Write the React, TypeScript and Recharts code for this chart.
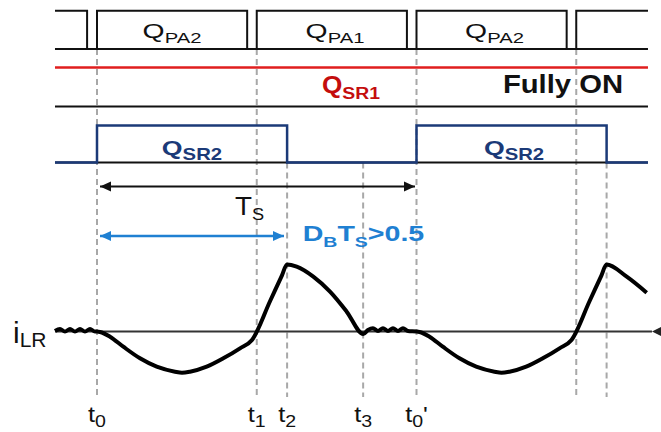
import React from 'react';
import { ComposedChart, Line, Scatter, XAxis, YAxis } from 'recharts';

// ---------------------------------------------------------------------------
// Signal data. Time is normalised to the switching period Ts (t0 = 0, t0' = 1).
// ---------------------------------------------------------------------------
const T_START = -0.1315;
const T_END = 1.7245;

// primary-side gate drive Q_PA1 / Q_PA2 (1 = on)
const PA_T = [T_START, -0.031, 0, 0.47, 0.5, 0.97, 1.0, 1.47, 1.5, T_END];
const PA_V = [1, 0, 1, 0, 1, 0, 1, 0, 1, 1];

// Q_SR1 stays fully on
const SR1_T = [T_START, T_END];
const SR1_V = [1, 1];

// Q_SR2 gate
const SR2_T = [T_START, 0, 0.595, 1.0, 1.595, T_END];
const SR2_V = [0, 1, 0, 1, 0, 0];

// resonant inductor current i_LR (normalised to its peak)
const ILR_T = [
  -0.1315, -0.1158, -0.1002, -0.0845, -0.0689, -0.0532, -0.0376, -0.0219, -0.0063, 0,
  0.0094, 0.0407, 0.0823, 0.1346, 0.1869, 0.2441, 0.2660, 0.2911, 0.3433, 0.3953, 0.4476, 0.4851,
  0.5415, 0.579, 0.5947, 0.625, 0.677, 0.7293, 0.7815, 0.8335,
  0.8482, 0.8638, 0.8795, 0.8951, 0.9108, 0.9264, 0.9421, 0.9577, 0.9734, 1.0,
  1.0094, 1.0407, 1.0823, 1.1346, 1.1869, 1.2441, 1.2660, 1.2911, 1.3433, 1.3953, 1.4476, 1.4851,
  1.5415, 1.579, 1.5947, 1.6579, 1.7205,
];
const ILR_V = [
  0.007, 0.037, 0, 0.037, 0, 0.037, 0, 0.037, 0, 0,
  -0.007, -0.078, -0.227, -0.4, -0.525, -0.6, -0.615, -0.6, -0.525, -0.4, -0.251, -0.127,
  0.452, 0.839, 1.0, 0.967, 0.818, 0.594, 0.296, -0.037,
  0.022, 0.048, 0.007, 0.048, 0.007, 0.048, 0.007, 0.048, 0.007, 0,
  -0.007, -0.078, -0.227, -0.4, -0.525, -0.6, -0.615, -0.6, -0.525, -0.4, -0.251, -0.127,
  0.452, 0.839, 1.0, 0.818, 0.579,
];

// switching instants and the trace each guide line drops from
const MARKER_T = [0, 0.5, 0.595, 0.833, 1.0, 1.5, 1.595];
const MARKER_FROM = ['pa', 'pa', 'sr2', 'sr2', 'pa', 'pa', 'sr2'];
const MARKER_LABELS = [['t', '_0'], ['t', '_1'], ['t', '_2'], ['t', '_3'], ['t', '_0', "'"]];

// gate labels
const PA_LABEL_T = [0.2347, 0.7449, 1.2441];
const PA_LABELS = [['Q', '_PA2'], ['Q', '_PA1'], ['Q', '_PA2']];
const SR1_LABEL_T = [0.795];
const SR1_LABELS = [['Q', '_SR1']];
const ON_LABEL_T = [1.4585];
const ON_LABELS = [['Fully ON']];
const SR2_LABEL_T = [0.2973, 1.3052];
const SR2_LABELS = [['Q', '_SR2'], ['Q', '_SR2']];

// period and duty-cycle dimension arrows
const TS_ARROW_T = [0.0094, 0.9953];
const TS_LABEL_T = [0.4773];
const TS_LABELS = [['T', '_S']];
const DB_ARROW_T = [0.0094, 0.5853];
const DB_LABEL_T = [0.834];
const DB_LABELS = [['D', '_B', 'T', '_S', '>0.5']];
const ILR_LABEL_T = [-0.2629];
const ILR_LABELS = [['i', '_LR']];
const ILR_AXIS_ARROW_T = [1.737];

// ---------------------------------------------------------------------------
// Layout
// ---------------------------------------------------------------------------
const W = 661;
const H = 432;
const X0_PX = 97; // where t0 sits
const TS_PX = 319.5; // width of one period
const X_DOMAIN: [number, number] = [-X0_PX / TS_PX, (W - X0_PX) / TS_PX];

// pixel rows of each trace: [row of value 1, row of value 0]
const ROWS: Record<string, [number, number]> = {
  pa: [10.7, 49],
  sr1: [67.5, 106.5],
  sr2: [125.5, 162.5],
  ann: [186.5, 236],
  ilr: [264.5, 331.5],
  guide: [49, 397],
};

const laneDomain = ([top, bottom]: [number, number]): [number, number] => {
  const max = bottom / (bottom - top);
  return [max - H / (bottom - top), max];
};

// level on the guide lane that lines up with another lane's low level
const guideLevelOf = (lane: string) => {
  const [gTop, gBottom] = ROWS.guide;
  return (gBottom - ROWS[lane][1]) / (gBottom - gTop);
};

const FONT = '"Liberation Sans", Arial, Helvetica, sans-serif';

type TextStyle = {
  size: number;
  subSize: number;
  subDy: number;
  sx: number;
  anchor: 'start' | 'middle' | 'end';
  weight: number | string;
  fill: string;
};

const rich = (parts: string[], st: TextStyle) => {
  let lowered = false;
  return parts.map((p, i) => {
    const sub = p.startsWith('_');
    const txt = sub ? p.slice(1) : p;
    let dy = 0;
    if (sub && !lowered) {
      dy = st.subDy;
      lowered = true;
    } else if (!sub && lowered) {
      dy = -st.subDy;
      lowered = false;
    }
    return (
      <tspan key={i} dy={dy} fontSize={sub ? st.subSize : st.size}>
        {txt}
      </tspan>
    );
  });
};

const textShape = (st: TextStyle) => (props: any) => {
  const { cx, cy, payload } = props;
  if (cx == null || cy == null) return <g />;
  return (
    <g transform={`translate(${cx},${cy}) scale(${st.sx},1)`}>
      <text
        x={0}
        y={0}
        textAnchor={st.anchor}
        fontFamily={FONT}
        fontWeight={st.weight}
        fill={st.fill}
        fontSize={st.size}
      >
        {rich(payload.parts, st)}
      </text>
    </g>
  );
};

const arrowShape = (fill: string, len: number, half: number) => (props: any) => {
  const { cx, cy, payload } = props;
  if (cx == null || cy == null) return <g />;
  const d = payload.dir;
  return (
    <polygon
      points={`${cx},${cy} ${cx - d * len},${cy - half} ${cx - d * len},${cy + half}`}
      fill={fill}
    />
  );
};

const series = (ts: number[], vs: number[]) => ts.map((t, i) => ({ t, v: vs[i] }));
const labels = (ts: number[], v: number, parts: string[][]) =>
  ts.map((t, i) => ({ t, v, parts: parts[i] }));
const heads = (ts: number[], v: number) =>
  ts.map((t, i) => ({ t, v, dir: i === 0 ? -1 : 1 }));

const BLACK = '#111111';
const RED_LINE = '#e01e1e';
const RED_TEXT = '#c40d0d';
const NAVY = '#1b3a78';
const BLUE = '#1f80d2';
const GUIDE = '#a8a8a8';

const ST_PA: TextStyle = { size: 21, subSize: 15, subDy: 5, sx: 1.35, anchor: 'middle', weight: 400, fill: BLACK };
const ST_SR1: TextStyle = { size: 23, subSize: 17, subDy: 6, sx: 1.14, anchor: 'middle', weight: 700, fill: RED_TEXT };
const ST_ON: TextStyle = { size: 25, subSize: 17, subDy: 6, sx: 1.17, anchor: 'middle', weight: 700, fill: BLACK };
const ST_SR2: TextStyle = { size: 21, subSize: 16, subDy: 5, sx: 1.27, anchor: 'middle', weight: 700, fill: NAVY };
const ST_TS: TextStyle = { size: 26, subSize: 17, subDy: 5, sx: 1.07, anchor: 'middle', weight: 400, fill: BLACK };
const ST_DB: TextStyle = { size: 22, subSize: 15, subDy: 5, sx: 1.3, anchor: 'middle', weight: 700, fill: BLUE };
const ST_ILR: TextStyle = { size: 30, subSize: 21, subDy: 4, sx: 1.0, anchor: 'start', weight: 400, fill: BLACK };
const ST_T: TextStyle = { size: 22, subSize: 17, subDy: 5, sx: 1.15, anchor: 'middle', weight: 400, fill: BLACK };

export default function App() {
  const baseline = series([T_START, T_END], [0, 0]);
  const noAnim = { isAnimationActive: false, dot: false, activeDot: false } as const;

  return (
    <div style={{ position: 'absolute', left: 0, top: 0, width: W, height: H, background: '#fff' }}>
      <ComposedChart width={W} height={H} margin={{ top: 0, right: 0, bottom: 0, left: 0 }}>
        <XAxis xAxisId="x" type="number" dataKey="t" domain={X_DOMAIN} allowDataOverflow hide />
        {Object.keys(ROWS).map((k) => (
          <YAxis key={k} yAxisId={k} type="number" domain={laneDomain(ROWS[k])} allowDataOverflow hide />
        ))}

        {/* dashed guides at the switching instants */}
        {MARKER_T.map((t, i) => (
          <Line
            key={`g${i}`}
            xAxisId="x"
            yAxisId="guide"
            data={[{ t, v: guideLevelOf(MARKER_FROM[i]) }, { t, v: 0 }]}
            dataKey="v"
            type="linear"
            stroke={GUIDE}
            strokeWidth={2}
            strokeDasharray="6 4"
            {...noAnim}
          />
        ))}

        {/* trace baselines */}
        <Line xAxisId="x" yAxisId="pa" data={baseline} dataKey="v" type="linear" stroke={BLACK} strokeWidth={2} {...noAnim} />
        <Line xAxisId="x" yAxisId="sr1" data={baseline} dataKey="v" type="linear" stroke={BLACK} strokeWidth={2} {...noAnim} />
        <Line xAxisId="x" yAxisId="sr2" data={baseline} dataKey="v" type="linear" stroke={BLACK} strokeWidth={2} {...noAnim} />
        <Line
          xAxisId="x"
          yAxisId="ilr"
          data={series([T_START, ILR_AXIS_ARROW_T[0]], [0, 0])}
          dataKey="v"
          type="linear"
          stroke="#333333"
          strokeWidth={2}
          {...noAnim}
        />

        {/* gate signals */}
        <Line xAxisId="x" yAxisId="pa" data={series(PA_T, PA_V)} dataKey="v" type="stepAfter" stroke={BLACK} strokeWidth={2} {...noAnim} />
        <Line xAxisId="x" yAxisId="sr1" data={series(SR1_T, SR1_V)} dataKey="v" type="linear" stroke={RED_LINE} strokeWidth={2.5} {...noAnim} />
        <Line xAxisId="x" yAxisId="sr2" data={series(SR2_T, SR2_V)} dataKey="v" type="stepAfter" stroke={NAVY} strokeWidth={2.5} {...noAnim} />

        {/* resonant current */}
        <Line
          xAxisId="x"
          yAxisId="ilr"
          data={series(ILR_T, ILR_V)}
          dataKey="v"
          type="monotone"
          stroke="#000000"
          strokeWidth={4}
          strokeLinejoin="round"
          {...noAnim}
        />

        {/* dimension arrows */}
        <Line xAxisId="x" yAxisId="ann" data={series(TS_ARROW_T, [1, 1])} dataKey="v" type="linear" stroke={BLACK} strokeWidth={2} {...noAnim} />
        <Scatter xAxisId="x" yAxisId="ann" data={heads(TS_ARROW_T, 1)} dataKey="v" shape={arrowShape(BLACK, 11, 5)} isAnimationActive={false} />
        <Line xAxisId="x" yAxisId="ann" data={series(DB_ARROW_T, [0, 0])} dataKey="v" type="linear" stroke={BLUE} strokeWidth={2.5} {...noAnim} />
        <Scatter xAxisId="x" yAxisId="ann" data={heads(DB_ARROW_T, 0)} dataKey="v" shape={arrowShape(BLUE, 11, 5)} isAnimationActive={false} />
        <Scatter
          xAxisId="x"
          yAxisId="ilr"
          data={ILR_AXIS_ARROW_T.map((t) => ({ t, v: 0, dir: -1 }))}
          dataKey="v"
          shape={arrowShape('#222222', 10, 5)}
          isAnimationActive={false}
        />

        {/* text */}
        <Scatter xAxisId="x" yAxisId="pa" data={labels(PA_LABEL_T, 0.287, PA_LABELS)} dataKey="v" shape={textShape(ST_PA)} isAnimationActive={false} />
        <Scatter xAxisId="x" yAxisId="sr1" data={labels(SR1_LABEL_T, 0.355, SR1_LABELS)} dataKey="v" shape={textShape(ST_SR1)} isAnimationActive={false} />
        <Scatter xAxisId="x" yAxisId="sr1" data={labels(ON_LABEL_T, 0.346, ON_LABELS)} dataKey="v" shape={textShape(ST_ON)} isAnimationActive={false} />
        <Scatter xAxisId="x" yAxisId="sr2" data={labels(SR2_LABEL_T, 0.203, SR2_LABELS)} dataKey="v" shape={textShape(ST_SR2)} isAnimationActive={false} />
        <Scatter xAxisId="x" yAxisId="ann" data={labels(TS_LABEL_T, 0.424, TS_LABELS)} dataKey="v" shape={textShape(ST_TS)} isAnimationActive={false} />
        <Scatter xAxisId="x" yAxisId="ann" data={labels(DB_LABEL_T, -0.111, DB_LABELS)} dataKey="v" shape={textShape(ST_DB)} isAnimationActive={false} />
        <Scatter xAxisId="x" yAxisId="ilr" data={labels(ILR_LABEL_T, -0.172, ILR_LABELS)} dataKey="v" shape={textShape(ST_ILR)} isAnimationActive={false} />
        <Scatter
          xAxisId="x"
          yAxisId="ilr"
          data={labels(MARKER_T.slice(0, MARKER_LABELS.length), -1.351, MARKER_LABELS)}
          dataKey="v"
          shape={textShape(ST_T)}
          isAnimationActive={false}
        />
      </ComposedChart>
    </div>
  );
}
